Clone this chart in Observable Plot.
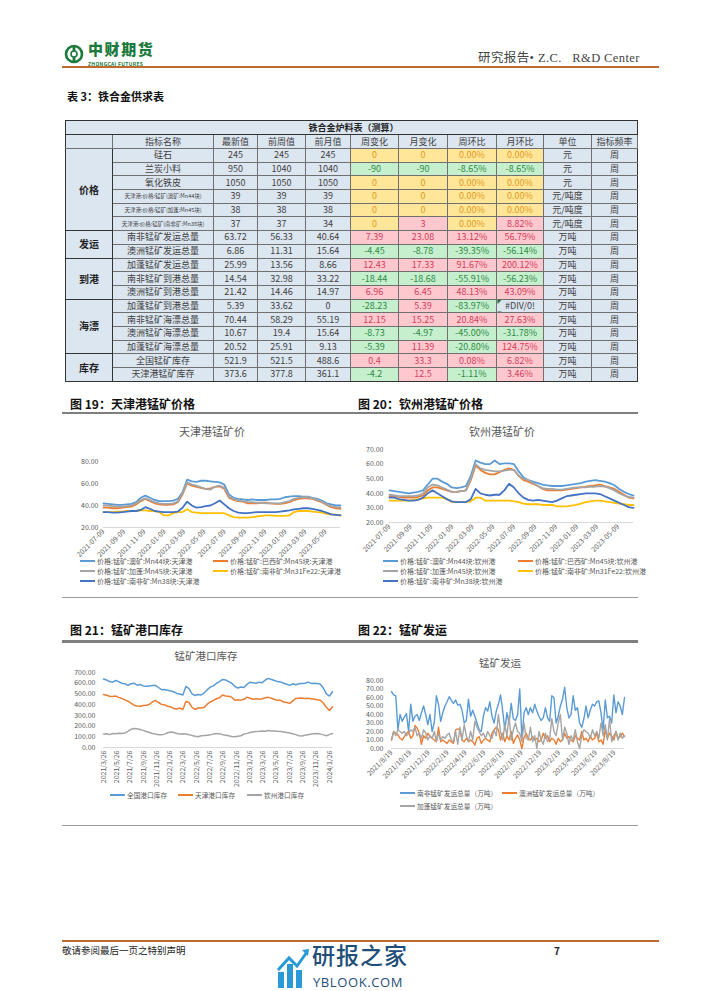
<!DOCTYPE html>
<html><head><meta charset="utf-8">
<script src="https://cdn.jsdelivr.net/npm/d3@7"></script>
<script src="https://cdn.jsdelivr.net/npm/@observablehq/plot@0.6"></script>
<style>
html,body{margin:0;padding:0;background:#fff;}
body{width:702px;height:991px;position:relative;overflow:hidden;font-family:"Noto Sans CJK SC","Noto Sans",sans-serif;}
.a{position:absolute;white-space:nowrap;line-height:1;}
.sec{font-weight:700;font-size:12px;color:#111;}
.hl{position:absolute;background:#7f7f7f;}
table.t{position:absolute;left:65px;top:120px;width:572px;border-collapse:collapse;table-layout:fixed;background:#dce6f1;font-size:9px;color:#404040;}
table.t td{border:1px solid #707070;text-align:center;padding:0;line-height:10px;overflow:hidden;white-space:nowrap;}
table.t td.cat{font-weight:700;font-size:10px;color:#222;border:1.5px solid #333;}
table.t tr.g td{border-top:1.5px solid #333;}
.tiny{font-size:5.5px !important;}
.c-y{background:#ffe699;color:#e39a1c;}
.c-g{background:#c6efce;color:#2e8b45;}
.c-r{background:#ffc7ce;color:#d0405a;}
.div0{background:linear-gradient(135deg,#1e6b30 0,#1e6b30 3px,transparent 3px);}
.ct{position:absolute;text-align:center;color:#595959;line-height:1;white-space:nowrap;}
.lg{position:absolute;font-size:7px;color:#595959;line-height:1;white-space:nowrap;}
.lg i{display:inline-block;width:15px;height:2px;vertical-align:middle;margin-right:2px;position:relative;top:-1px;}
svg{overflow:visible;}
</style></head><body>

<!-- header -->
<svg class="a" style="left:64px;top:44px" width="20" height="20" viewBox="0 0 20 20">
  <circle cx="10" cy="10" r="8" fill="none" stroke="#1b7a3c" stroke-width="2.6"/>
  <rect x="8.6" y="3" width="2.8" height="14" fill="#1b7a3c"/>
  <circle cx="10" cy="10" r="3" fill="#fff" stroke="#1b7a3c" stroke-width="1.6"/>
</svg>
<div class="a" style="left:88px;top:41px;font-size:15px;font-weight:900;color:#1b7a3c;letter-spacing:1.6px">中财期货</div>
<div class="a" style="left:88px;top:61px;font-size:5px;font-weight:700;color:#1b7a3c;letter-spacing:0.3px">ZHONGCAI FUTURES</div>
<div class="a" style="left:478px;top:52px;font-size:12.5px;letter-spacing:0.4px;color:#444;font-family:'Liberation Serif','Noto Sans CJK SC',serif">研究报告• Z.C.&nbsp;&nbsp; R&amp;D Center</div>
<div class="a" style="left:62px;top:66px;width:597px;height:2px;background:#c0692f"></div>

<div class="a sec" style="left:67px;top:91px;font-size:11px">表 3：铁合金供求表</div>

<!-- section headers -->
<div class="a sec" style="left:70px;top:398px">图 19：天津港锰矿价格</div>
<div class="a sec" style="left:358px;top:398px">图 20：钦州港锰矿价格</div>
<div class="hl" style="left:62px;top:412px;width:290px;height:1.5px"></div>
<div class="hl" style="left:350px;top:412px;width:288px;height:1.5px"></div>
<div class="hl" style="left:62px;top:597px;width:290px;height:1px;background:#9a9a9a"></div>
<div class="hl" style="left:350px;top:597px;width:288px;height:1px;background:#9a9a9a"></div>

<div class="a sec" style="left:70px;top:624px">图 21：锰矿港口库存</div>
<div class="a sec" style="left:358px;top:624px">图 22：锰矿发运</div>
<div class="hl" style="left:62px;top:640px;width:290px;height:2.5px"></div>
<div class="hl" style="left:350px;top:640px;width:288px;height:2.5px"></div>
<div class="hl" style="left:62px;top:825px;width:576px;height:1px;background:#9a9a9a"></div>

<!-- footer -->
<div class="a" style="left:62px;top:940px;width:597px;height:2px;background:#c0692f"></div>
<div class="a" style="left:62px;top:946px;font-size:9.5px;color:#222">敬请参阅最后一页之特别声明</div>
<div class="a" style="left:554px;top:946px;font-size:10px;color:#222;font-weight:700">7</div>
<svg class="a" style="left:276px;top:948px" width="34" height="40" viewBox="0 0 34 40">
  <rect x="2" y="24" width="6" height="16" fill="#2a9ad6"/>
  <rect x="11" y="16" width="6" height="24" fill="#2a9ad6"/>
  <rect x="20" y="22" width="6" height="18" fill="#2a9ad6"/>
  <polyline points="2,22 13,10 21,18 31,4" fill="none" stroke="#2a9ad6" stroke-width="3"/>
  <polygon points="26,2 33,1 32,8" fill="#2a9ad6"/>
</svg>
<div class="a" style="left:312px;top:943px;font-size:23px;color:#1f4e79;font-weight:500;letter-spacing:1px">研报之家</div>
<div class="a" style="left:313px;top:976px;font-size:13px;color:#1f4e79;letter-spacing:0.6px;font-family:'Open Sans','Noto Sans',sans-serif">YBLOOK.COM</div>

<div id="charts"></div>

<script>
// ================= TABLE DATA =================
const tableTitle = "铁合金炉料表（测算）";
const headers = ["指标名称","最新值","前周值","前月值","周变化","月变化","周环比","月环比","单位","指标频率"];
const categories = ["价格","发运","到港","海漂","库存"];
const categorySpans = [6,2,3,4,2];
const names = ["硅石","兰炭小料","氧化铁皮","天津港:价格:锰矿(澳矿:Mn44块)","天津港:价格:锰矿(加蓬:Mn45块)","天津港:价格:锰矿(南非矿:Mn38块)","南非锰矿发运总量","澳洲锰矿发运总量","加蓬锰矿发运总量","南非锰矿到港总量","澳洲锰矿到港总量","加蓬锰矿到港总量","南非锰矿海漂总量","澳洲锰矿海漂总量","加蓬锰矿海漂总量","全国锰矿库存","天津港锰矿库存"];
const latest = [245,950,1050,39,38,37,63.72,6.86,25.99,14.54,21.42,5.39,70.44,10.67,20.52,521.9,373.6];
const prevWeek = [245,1040,1050,39,38,37,56.33,11.31,13.56,32.98,14.46,33.62,58.29,19.4,25.91,521.5,377.8];
const prevMonth = [245,1040,1050,39,38,34,40.64,15.64,8.66,33.22,14.97,0,55.19,15.64,9.13,488.6,361.1];
const weekChg = ["0","-90","0","0","0","0","7.39","-4.45","12.43","-18.44","6.96","-28.23","12.15","-8.73","-5.39","0.4","-4.2"];
const monthChg = ["0","-90","0","0","0","3","23.08","-8.78","17.33","-18.68","6.45","5.39","15.25","-4.97","11.39","33.3","12.5"];
const weekPct = ["0.00%","-8.65%","0.00%","0.00%","0.00%","0.00%","13.12%","-39.35%","91.67%","-55.91%","48.13%","-83.97%","20.84%","-45.00%","-20.80%","0.08%","-1.11%"];
const monthPct = ["0.00%","-8.65%","0.00%","0.00%","0.00%","8.82%","56.79%","-56.14%","200.12%","-56.23%","43.09%","#DIV/0!","27.63%","-31.78%","124.75%","6.82%","3.46%"];
const units = ["元","元","元","元/吨度","元/吨度","元/吨度","万吨","万吨","万吨","万吨","万吨","万吨","万吨","万吨","万吨","万吨","万吨"];
const freq = "周";
const colWidths = [47,101,44,48,45,48,49,49,47,48,46];

// ================= CHART DATA =================
// 图19 天津港 (biweekly from 2021-07-09)
const tjAu44   = [42,41.5,41,40.5,40.5,41,41.5,43,47,49,47,45,44,44,44,44.5,46,52,63.5,62,61.5,62.5,62.5,62,61.5,61,59,50,47,46,45.5,45,45.5,45,45,45,45.5,45.5,46,47.5,48,48.5,48.5,48,48,47,46,44.5,42,41,40,40];
const tjBr45   = [38,38,37.5,37.5,38,38.5,39,41,44,46,44,42,41,40.5,40.5,41,43,50,60,58,57,56,55,55.5,57,57.5,55,47,45,44,43.5,42,42,42,42.5,42.5,42,41.5,41.5,42,43,45,46,46.5,46.5,46,44.5,43,40.5,38.5,37.5,37];
const tjGa45   = [40,40,39.5,39,39,39.5,40,42,45,46.5,45,43,42,41.5,41.5,42,43.5,51,61,59,58,56.5,55,54.5,57,58,56,48,46,44.5,44,43,43,42.5,42.5,42,42,42,42,43,44,46,47,47.5,47.5,46.5,45,43.5,41,39.5,38.5,38];
const tjSa31   = [34,34,34,34.5,34.5,35,35,35,35.5,35.5,35,35,34,31,31,33,34,34,36.5,34,33.5,33,33,33,33,33,33,31,29.5,29,29,29,29.5,30,30.5,31,31,30.5,30.5,30.5,31,34,35,35,35,34.5,34,33.5,32.5,32,31.5,31];
const tjSa38   = [34,34,33.5,33.5,34,34.5,35,35,36,38.5,37,35,34.5,34,34,34,34.5,38,43.5,40,38,38.5,39.5,40,42,44.5,41,37.5,35,33.5,33,33,33.5,34,34,34,34,34,34.5,35,35.5,36.5,37,37.5,37.5,37,36,35,33.5,32,31.5,31];
// 图20 钦州港 (biweekly from 2021-07-09)
const qzAu44   = [42,41.5,41,40.5,40,40.5,41,42,46,50,50,48,46.5,44,43.5,44,45,52,62.5,61,60,60,62.5,60,60.5,60.5,60,55,51,49,48,47,46,45.5,45,45,45,45.5,46,46.5,47,48,48.5,49,48.5,48,47,45.5,43,41,39.5,38.5];
const qzBr45   = [38,38,37.5,37,37,37,37.5,38.5,42,44,44,43,42,41,41,41.5,42,49,59,56,54,53,53,54.5,56,57,56,52,49,48,46.5,45,43,42,42,42,42,42.5,43,43.5,44,44.5,45,45.5,46,45,44,43,41,39,37,36.5];
const qzGa45   = [39,38.5,38,38,38,38,38.5,40,44,46,45.5,44,42.5,41,41,41.5,42,50,60,57,56,55.5,55,55,55.5,56,56,52,50,49,47,45,43.5,43,43,42.5,42.5,43,43.5,44,44,44,44.5,44.5,45,44.5,43.5,42,40,38.5,37.5,37];
const qzSa31   = [35,35,35,35,35,35.5,36,36.5,37,37,37,37,36,34,34,34,34,34.5,37,37,35,35,35,35,35,35,34.5,34,33,32.5,32.5,32.5,32,32,32,31,31,31,31.5,32,33,34,34.5,35,35,34.5,34,33.5,33,32.5,32,32];
const qzSa38   = [37,37,36,35.5,35,35,35.5,37,40,42,40,38,36,34.5,34,34,34,36,43,40,39,38.5,39,39,42,46.5,44,40,37,35.5,35,35.5,35,34.5,34,35,36.5,38,38.5,39,39.5,40,40,40,39.5,38,36.5,35,33.5,32,30.5,30];
const priceStart = "2021-07-09", priceStep = 14;
const priceTicks = ["2021-07-09","2021-09-09","2021-11-09","2022-01-09","2022-03-09","2022-05-09","2022-07-09","2022-09-09","2022-11-09","2023-01-09","2023-03-09","2023-05-09"];
// 图21 港口库存 (biweekly from 2021-03-26)
const invAll = [640,630,615,610,625,615,600,595,580,595,600,582,588,575,572,575,578,580,560,540,542,535,528,520,505,500,490,570,550,500,485,495,490,510,540,565,575,600,615,635,630,615,600,570,555,565,560,590,610,605,600,610,605,630,645,635,625,615,612,600,590,580,595,585,595,598,600,610,598,600,598,590,555,500,480,520];
const invTj  = [495,488,478,475,480,468,458,445,432,415,395,388,385,392,395,402,425,440,420,402,398,385,378,365,360,368,355,430,420,375,355,370,368,375,405,425,440,455,465,490,480,478,470,440,445,442,450,470,460,450,455,450,455,465,468,460,448,440,440,425,420,412,435,458,460,462,458,460,455,450,445,440,415,375,345,380];
const invQz  = [125,128,120,130,128,132,130,135,150,170,178,175,168,160,150,140,130,125,120,118,125,138,145,140,130,125,128,125,120,112,105,100,110,112,115,118,125,130,128,120,115,110,102,100,105,110,125,132,140,145,150,152,155,152,158,155,155,152,150,145,140,135,128,120,110,108,115,120,125,128,130,125,118,110,120,130];
const invStart = "2021-03-26", invStep = 14;
const invTicks = ["2021-03-26","2021-05-26","2021-07-26","2021-09-26","2021-11-26","2022-01-26","2022-03-26","2022-05-26","2022-07-26","2022-09-26","2022-11-26","2023-01-26","2023-03-26","2023-05-26","2023-07-26","2023-09-26","2023-11-26","2024-01-26"];
// 图22 锰矿发运 (weekly from 2021-08-19)
const shipSA = [67,63,62,22,40,32,37,41,20,52,32,38,40,33,42,50,40,28,40,20,30,62,52,32,42,50,55,61,57,53,57,51,52,45,30,33,58,38,45,38,30,22,20,38,48,44,55,38,30,44,52,63,45,22,42,30,53,35,33,40,70,12,42,48,40,48,42,52,44,38,33,36,48,36,32,62,60,30,38,50,58,72,48,36,40,62,45,48,30,25,35,50,36,45,52,50,55,56,42,22,57,36,38,30,63,42,55,50,40,60];
const shipAU = [10,20,18,16,12,10,14,18,20,12,15,27,24,18,5,15,12,18,14,12,10,8,25,8,10,8,6,10,8,6,22,23,22,10,8,12,8,10,8,4,12,14,6,10,12,10,8,18,22,25,22,10,18,8,15,10,20,6,12,16,10,0,13,18,12,10,14,10,12,8,10,18,12,15,8,12,10,5,12,8,10,18,12,14,10,8,15,12,10,20,10,12,8,15,10,12,18,8,10,5,22,12,18,15,10,20,12,14,18,14];
const shipGA = [10,20,15,22,20,18,20,15,18,22,20,25,15,18,12,22,18,10,15,12,20,8,18,10,14,12,16,18,10,8,20,5,25,10,28,15,8,20,10,32,25,20,15,18,12,20,15,12,22,15,40,20,10,28,15,38,10,22,30,20,18,8,30,12,10,25,8,15,0,20,10,5,18,8,12,35,20,15,30,40,10,25,18,5,15,10,22,8,0,15,22,20,18,12,22,15,20,12,30,15,28,10,35,8,15,20,10,18,12,15];
const shipStart = "2021-08-19", shipStep = 7;
const shipTicks = ["2021-08-19","2021-10-19","2021-12-19","2022-02-19","2022-04-19","2022-06-19","2022-08-19","2022-10-19","2022-12-19","2023-02-19","2023-04-19","2023-06-19","2023-08-19"];

const C1="#5b9bd5", C2="#ed7d31", C3="#a5a5a5", C4="#ffc000", C5="#4472c4";

// ================= TABLE =================
(function(){
  const tbl = document.createElement("table"); tbl.className = "t";
  let h = "<colgroup>" + colWidths.map(w=>`<col style="width:${w}px">`).join("") + "</colgroup>";
  h += `<tr style="height:14px"><td colspan="11" style="font-weight:700;color:#222;border:1.5px solid #333;padding-left:4px">${tableTitle}</td></tr>`;
  h += `<tr style="height:14px"><td style="border-left:1.5px solid #333"></td>` + headers.map(s=>`<td>${s}</td>`).join("") + "</tr>";
  const cls = s => s.startsWith("#") ? "div0" : (parseFloat(s)===0 ? "c-y" : (parseFloat(s)<0 ? "c-g" : "c-r"));
  let r = 0;
  categories.forEach((cat, ci) => {
    for (let k=0;k<categorySpans[ci];k++,r++){
      h += `<tr style="height:13.7px" class="${k===0?'g':''}">`;
      if (k===0) h += `<td class="cat" rowspan="${categorySpans[ci]}">${cat}</td>`;
      h += `<td class="${names[r].length>10?'tiny':''}">${names[r]}</td>`;
      h += `<td>${latest[r]}</td><td>${prevWeek[r]}</td><td>${prevMonth[r]}</td>`;
      [weekChg[r],monthChg[r],weekPct[r],monthPct[r]].forEach(s=>{ h += `<td class="${cls(s)}">${s}</td>`; });
      h += `<td>${units[r]}</td><td style="border-right:1.5px solid #333">${freq}</td></tr>`;
    }
  });
  tbl.innerHTML = h;
  document.body.appendChild(tbl);
  tbl.querySelectorAll("tr:last-child td").forEach(td=>td.style.borderBottom="1.5px solid #333");
})();

// ================= CHARTS =================
const parse = d3.utcParse("%Y-%m-%d");
const root = document.getElementById("charts");
function build(vals, start, step){
  const s = parse(start);
  return vals.map((v,i)=>({date:d3.utcDay.offset(s, step*i), value:v}));
}
function addDiv(cls, css, html){
  const d=document.createElement("div"); d.className=cls; d.style.cssText=css; d.innerHTML=html; root.appendChild(d); return d;
}
function chart(cfg){
  addDiv("ct", `left:${cfg.titleX-80}px;top:${cfg.titleY}px;width:160px;font-size:${cfg.titleSize}px`, cfg.title);
  const marks = [Plot.ruleY([cfg.yDomain[0]], {stroke:"#d9d9d9", strokeWidth:1})];
  cfg.series.forEach(s=>{
    marks.push(Plot.lineY(build(s.values, cfg.start, cfg.step), {x:"date", y:"value", stroke:s.color, strokeWidth:cfg.sw||1.8}));
  });
  const last = build(cfg.series[0].values, cfg.start, cfg.step);
  const svg = Plot.plot({
    width: cfg.width, height: cfg.height,
    marginTop: cfg.mt, marginBottom: cfg.mb, marginLeft: cfg.ml, marginRight: cfg.mr,
    style: {fontFamily:'"Noto Sans CJK SC","Noto Sans",sans-serif', fontSize:"7px", color:"#595959", background:"transparent", overflow:"visible"},
    x: {type:"utc", domain:[parse(cfg.start), last[last.length-1].date], ticks: cfg.ticks.map(parse), tickFormat: d3.utcFormat(cfg.fmt), tickRotate: cfg.rot, tickSize:0, tickPadding: cfg.xpad, label:null},
    y: {domain: cfg.yDomain, ticks: cfg.yTicks, tickFormat: d=>d.toFixed(2), tickSize:0, tickPadding: cfg.ypad, label:null},
    marks
  });
  svg.style.position="absolute"; svg.style.left=cfg.left+"px"; svg.style.top=cfg.top+"px";
  root.appendChild(svg);
  cfg.legend.forEach(([x,y,color,label])=>{
    addDiv("lg", `left:${x}px;top:${y-3.5}px;font-size:${cfg.lgSize||7}px`, `<i style="background:${color}"></i>${label}`);
  });
}

chart({title:"天津港锰矿价", titleX:212, titleY:426, titleSize:11,
  left:62, top:445, width:290, height:118, mt:16, mb:36, ml:41, mr:12,
  start:priceStart, step:priceStep, ticks:priceTicks, fmt:"%Y-%m-%d", rot:-45, xpad:3,
  yDomain:[20,80], yTicks:[20,40,60,80], ypad:5,
  series:[{values:tjAu44,color:C1},{values:tjBr45,color:C2},{values:tjGa45,color:C3},{values:tjSa31,color:C4},{values:tjSa38,color:C5}],
  legend:[[80,561,C1,"价格:锰矿:澳矿:Mn44块:天津港"],[213,561,C2,"价格:锰矿:巴西矿:Mn45块:天津港"],[80,571,C3,"价格:锰矿:加蓬:Mn45块:天津港"],[213,571,C4,"价格:锰矿:南非矿:Mn31Fe22:天津港"],[80,581,C5,"价格:锰矿:南非矿:Mn38块:天津港"]]
});
chart({title:"钦州港锰矿价", titleX:502, titleY:426, titleSize:11,
  left:350, top:438, width:290, height:120, mt:11, mb:36, ml:39, mr:7,
  start:priceStart, step:priceStep, ticks:priceTicks, fmt:"%Y-%m-%d", rot:-45, xpad:3,
  yDomain:[20,70], yTicks:[20,30,40,50,60,70], ypad:6,
  series:[{values:qzAu44,color:C1},{values:qzBr45,color:C2},{values:qzGa45,color:C3},{values:qzSa31,color:C4},{values:qzSa38,color:C5}],
  legend:[[383,561,C1,"价格:锰矿:澳矿:Mn44块:钦州港"],[518,561,C2,"价格:锰矿:巴西矿:Mn45块:钦州港"],[383,571,C3,"价格:锰矿:加蓬:Mn45块:钦州港"],[518,571,C4,"价格:锰矿:南非矿:Mn31Fe22:钦州港"],[383,581,C5,"价格:锰矿:南非矿:Mn38块:钦州港"]]
});
chart({title:"锰矿港口库存", titleX:206, titleY:651, titleSize:10.5,
  left:62, top:660, width:290, height:131, mt:12, mb:44, ml:41, mr:20,
  start:invStart, step:invStep, ticks:invTicks, fmt:"%Y/%-m/%-d", rot:-90, xpad:3,
  yDomain:[0,700], yTicks:[0,100,200,300,400,500,600,700], ypad:8, sw:1.5,
  series:[{values:invAll,color:C1},{values:invTj,color:C2},{values:invQz,color:C3}],
  legend:[[110,795,C1,"全国港口库存"],[178,795,C2,"天津港口库存"],[247,795,C3,"钦州港口库存"]], lgSize:6.7
});
chart({title:"锰矿发运", titleX:500, titleY:658, titleSize:10.5,
  left:350, top:670, width:290, height:114, mt:10, mb:36, ml:41, mr:16,
  start:shipStart, step:shipStep, ticks:shipTicks, fmt:"%Y/%-m/%-d", rot:-45, xpad:3,
  yDomain:[0,80], yTicks:[0,10,20,30,40,50,60,70,80], ypad:8, sw:1.4,
  series:[{values:shipSA,color:C1},{values:shipAU,color:C2},{values:shipGA,color:C3}],
  legend:[[400,793,C1,"南非锰矿发运总量（万吨）"],[502,793,C2,"澳洲锰矿发运总量（万吨）"],[400,806,C3,"加蓬锰矿发运总量（万吨）"]], lgSize:6.7
});
</script>
</body></html>
